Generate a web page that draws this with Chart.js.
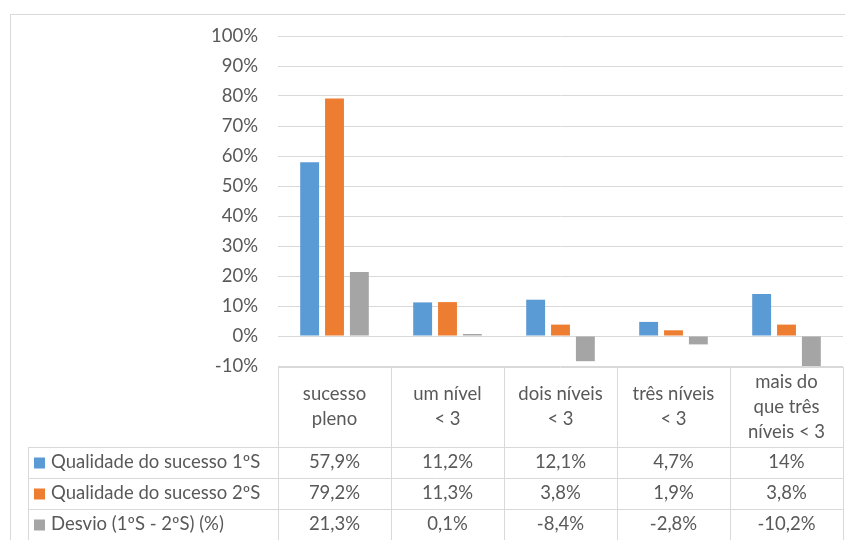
<!DOCTYPE html>
<html>
<head>
<meta charset="utf-8">
<script src="https://cdn.jsdelivr.net/npm/chart.js@4/dist/chart.umd.min.js"></script>
<style>
  html, body { margin: 0; padding: 0; background: #fff; }
  #wrap { width: 845px; height: 540px; position: relative; }
</style>
</head>
<body>
<div id="wrap"><canvas id="c" width="845" height="540"></canvas></div>
<script>
const categories = [
  ["sucesso", "pleno"],
  ["um nível", "< 3"],
  ["dois níveis", "< 3"],
  ["três níveis", "< 3"],
  ["mais do", "que três", "níveis < 3"]
];
const seriesNames = ["Qualidade do sucesso 1ºS", "Qualidade do sucesso 2ºS", "Desvio (1ºS - 2ºS) (%)"];
const sucesso1S = [57.9, 11.2, 12.1, 4.7, 14];
const sucesso2S = [79.2, 11.3, 3.8, 1.9, 3.8];
const desvio = [21.3, 0.1, -8.4, -2.8, -10.2];
const seriesColors = ["#5B9BD5", "#ED7D31", "#A5A5A5"];
const yTicks = { min: -10, max: 100, step: 10 };

const FAMILY = "Lato, 'Open Sans', sans-serif";
const FSIZE = 18.5;
const FONT = FSIZE + "px " + FAMILY;
const TXT = "#595959";
const LINE = "#d9d9d9";

const fmt = v => String(v).replace('.', ',') + '%';

const tablePlugin = {
  id: 'dataTable',
  afterDraw(chart) {
    const ctx = chart.ctx;
    const x = chart.scales.x;
    const area = chart.chartArea;
    const n = categories.length;
    const cw = (x.getPixelForValue(1) - x.getPixelForValue(0));
    const left = i => x.getPixelForValue(i) - cw / 2;
    const headTop = area.bottom + 1;
    const headBottom = 447;
    const rowH = 31;
    const legendLeft = 28;
    const tableBottom = 560;
    ctx.save();
    ctx.strokeStyle = LINE;
    ctx.lineWidth = 1;
    ctx.strokeRect(10.5, 14.5, 850, 560);
    ctx.beginPath();
    ctx.moveTo(left(0), headTop + 0.5);
    ctx.lineTo(left(n - 1) + cw, headTop + 0.5);
    for (let i = 0; i <= n; i++) {
      const xx = Math.round(left(i)) + 0.5;
      ctx.moveTo(xx, headTop);
      ctx.lineTo(xx, tableBottom);
    }
    for (let r = 0; r < 3; r++) {
      const yy = headBottom + r * rowH + 0.5;
      ctx.moveTo(legendLeft, yy);
      ctx.lineTo(left(n - 1) + cw, yy);
    }
    ctx.moveTo(legendLeft + 0.5, headBottom);
    ctx.lineTo(legendLeft + 0.5, tableBottom);
    ctx.stroke();

    ctx.font = FONT;
    ctx.fillStyle = TXT;
    ctx.textAlign = 'center';
    ctx.textBaseline = 'middle';
    for (let i = 0; i < n; i++) {
      const lines = categories[i];
      const cx = x.getPixelForValue(i);
      const lh = 25;
      const mid = (headTop + headBottom) / 2;
      const start = mid - (lines.length - 1) * lh / 2;
      lines.forEach((t, k) => ctx.fillText(t, cx, start + k * lh));
    }
    const series = [sucesso1S, sucesso2S, desvio];
    series.forEach((vals, r) => {
      const cy = headBottom + r * rowH + rowH / 2;
      vals.forEach((v, i) => {
        ctx.textAlign = 'center';
        ctx.fillStyle = TXT;
        ctx.fillText(fmt(v), x.getPixelForValue(i), cy);
      });
      ctx.fillStyle = seriesColors[r];
      ctx.fillRect(34, cy - 5, 11, 11);
      ctx.fillStyle = TXT;
      ctx.textAlign = 'left';
      ctx.fillText(seriesNames[r], 51, cy);
    });
    ctx.restore();
  }
};

new Chart(document.getElementById('c'), {
  type: 'bar',
  data: {
    labels: categories.map(c => c.join(' ')),
    datasets: [sucesso1S, sucesso2S, desvio].map((d, i) => ({
      label: seriesNames[i],
      data: d,
      backgroundColor: seriesColors[i],
      borderWidth: 0,
      minBarLength: 2,
      barPercentage: 0.76,
      categoryPercentage: 0.66
    }))
  },
  options: {
    responsive: false,
    animation: false,
    devicePixelRatio: 1,
    layout: { padding: { top: 36, right: 2, bottom: 174, left: 0 } },
    plugins: { legend: { display: false }, tooltip: { enabled: false } },
    scales: {
      x: {
        ticks: { display: false },
        grid: { display: false, drawTicks: false },
        border: { display: false }
      },
      y: {
        min: yTicks.min, max: yTicks.max,
        ticks: {
          stepSize: yTicks.step,
          padding: 20,
          color: TXT,
          font: { family: FAMILY, size: FSIZE },
          callback: v => v + '%'
        },
        grid: { color: LINE, drawTicks: false },
        border: { display: false },
        afterFit(scale) { scale.width = 278; }
      }
    }
  },
  plugins: [tablePlugin]
});
</script>
</body>
</html>
